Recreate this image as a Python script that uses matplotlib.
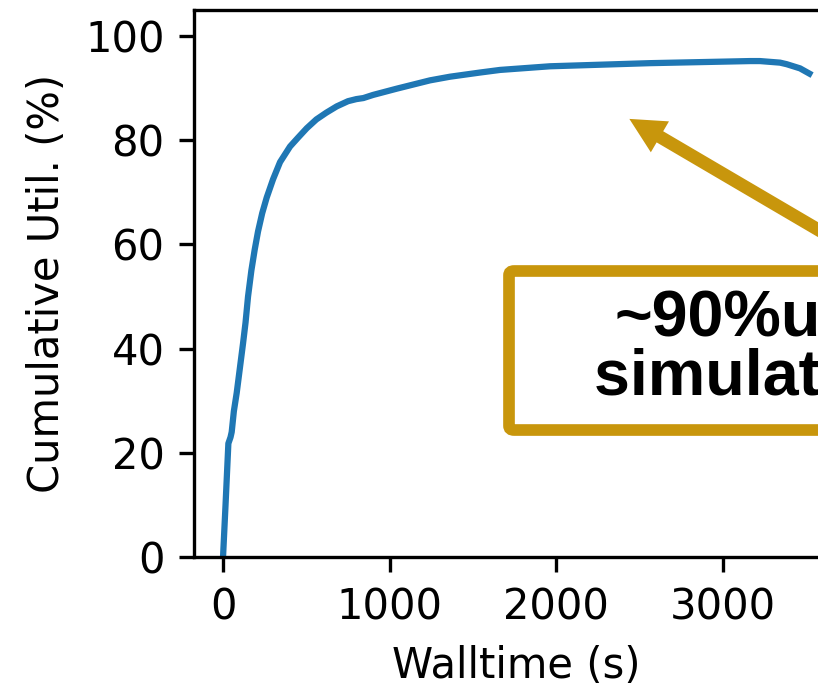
import matplotlib
matplotlib.use("Agg")
import matplotlib.pyplot as plt
from matplotlib.patches import FancyBboxPatch

# cumulative utilisation curve
walltime = [0, 15, 32, 45, 52, 65, 82, 100, 120, 135, 150, 170, 190, 210, 235,
            262, 300, 342, 402, 450, 502, 560, 620, 682, 750, 800, 842, 900,
            1042, 1242, 1362, 1542, 1662, 1962, 2262, 2562, 2862, 3162, 3222,
            3342, 3382, 3462, 3518]
util = [0, 10, 21.8, 23, 24, 28, 31.5, 36, 41, 45, 50, 55, 59, 62.5, 66,
        69, 72.5, 75.8, 78.8, 80.5, 82.3, 84, 85.3, 86.5, 87.5, 87.9, 88.1, 88.7,
        89.9, 91.5, 92.2, 93.0, 93.5, 94.2, 94.5, 94.8, 95.0, 95.2, 95.2,
        94.9, 94.6, 93.8, 92.8]

xticks = [0, 1000, 2000, 3000]
yticks = [0, 20, 40, 60, 80, 100]
gold = "#C8960C"

plt.rcParams["font.size"] = 10
fig = plt.figure(figsize=(818 / 300, 686 / 300), dpi=300)
ax = fig.add_axes([0.2368, 0.188, 0.7889, 0.7974])

ax.plot(walltime, util, color="#1f77b4", lw=1.5)
ax.set_xlim(-176, 3696)
ax.set_ylim(0, 105)
ax.set_xticks(xticks)
ax.set_yticks(yticks)
ax.set_xlabel("Walltime (s)")
ax.set_ylabel("Cumulative Util. (%)")

# annotation box + arrow (runs off the right edge like the original)
box = FancyBboxPatch((0.4886, 0.2322), 1.0, 0.2907, transform=ax.transAxes,
                     boxstyle="round,pad=0,rounding_size=0.008",
                     fc="white", ec=gold, lw=2.8, clip_on=False, zorder=5)
ax.add_patch(box)
ax.text(1.0153, 0.2962, "~90%utilization\nsimulation stage", transform=ax.transAxes,
        ha="center", va="baseline", multialignment="center",
        fontsize=15.5, fontweight="bold", family="Liberation Sans",
        linespacing=1.0, zorder=6, clip_on=False)
ax.annotate("", xy=(2438, 84.1), xytext=(3972, 55.3), xycoords="data",
            arrowprops=dict(arrowstyle="simple,head_length=0.85,head_width=0.86,tail_width=0.31",
                            mutation_scale=10, color=gold, lw=0, shrinkA=0, shrinkB=0),
            annotation_clip=False, zorder=4)

fig.savefig("out.png", dpi=300)
